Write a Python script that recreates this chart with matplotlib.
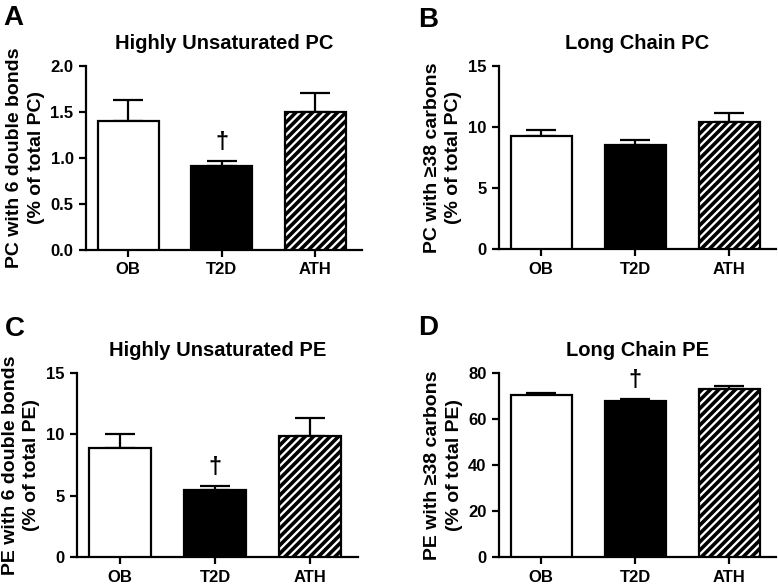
import matplotlib
matplotlib.use("Agg")
import matplotlib.pyplot as plt

plt.rcParams['font.family'] = ['Liberation Sans', 'DejaVu Sans']
plt.rcParams['font.weight'] = 'bold'
plt.rcParams['hatch.linewidth'] = 2.6

groups = ["OB", "T2D", "ATH"]

# Panel A: Highly Unsaturated PC
a_vals = [1.40, 0.91, 1.50]
a_err = [0.23, 0.055, 0.21]
# Panel B: Long Chain PC
b_vals = [9.30, 8.53, 10.39]
b_err = [0.49, 0.41, 0.74]
# Panel C: Highly Unsaturated PE
c_vals = [8.86, 5.46, 9.86]
c_err = [1.19, 0.33, 1.47]
# Panel D: Long Chain PE
d_vals = [70.4, 67.7, 73.2]
d_err = [1.0, 1.0, 1.1]

titles = ["Highly Unsaturated PC", "Long Chain PC", "Highly Unsaturated PE", "Long Chain PE"]
ylabels = ["PC with 6 double bonds\n(% of total PC)",
           "PC with \u226538 carbons\n(% of total PC)",
           "PE with 6 double bonds\n(% of total PE)",
           "PE with \u226538 carbons\n(% of total PE)"]
yticks = [[0.0, 0.5, 1.0, 1.5, 2.0], [0, 5, 10, 15], [0, 5, 10, 15], [0, 20, 40, 60, 80]]
ytick_fmt = ["{:.1f}", "{:.0f}", "{:.0f}", "{:.0f}"]
sig = [[False, True, False], [False, False, False], [False, True, False], [False, True, False]]
letters = ["A", "B", "C", "D"]

fig = plt.figure(figsize=(7.78, 5.87), dpi=100)
rects = [
    [86/778, 1-250/587, (362-86)/778, (250-66)/587],
    [499/778, 1-249/587, (776-499)/778, (249-66)/587],
    [77/778, 1-557/587, (358-77)/778, (557-373)/587],
    [499/778, 1-557/587, (776-499)/778, (557-373)/587],
]
letter_pos = [(3/778, 1-5/587), (418/778, 1-7/587), (5/778, 1-316/587), (418/778, 1-315/587)]

data = [(a_vals, a_err), (b_vals, b_err), (c_vals, c_err), (d_vals, d_err)]
faces = ["white", "black", "white"]
hatches = [None, None, "////"]

for i in range(4):
    ax = fig.add_axes(rects[i])
    vals, errs = data[i]
    x = list(range(len(groups)))
    for j in x:
        ax.bar(j, vals[j], width=0.65, color=faces[j], edgecolor="black",
               linewidth=1.6, hatch=hatches[j], zorder=3)
        ax.errorbar(j, vals[j], yerr=[[0], [errs[j]]], fmt="none", ecolor="black",
                    elinewidth=1.6, capsize=11, capthick=1.6, zorder=2)
        if sig[i][j]:
            ax.annotate("\u2020", xy=(j, vals[j] + errs[j]), xytext=(0, 5),
                        textcoords="offset points", ha="center", va="bottom",
                        fontsize=17, fontweight="bold")
    ax.set_xlim(-0.45, 2.5)
    ax.set_ylim(yticks[i][0], yticks[i][-1])
    ax.set_yticks(yticks[i])
    ax.set_yticklabels([ytick_fmt[i].format(v) for v in yticks[i]])
    ax.set_xticks(x)
    ax.set_xticklabels(groups)
    for s in ["top", "right"]:
        ax.spines[s].set_visible(False)
    for s in ["left", "bottom"]:
        ax.spines[s].set_linewidth(1.6)
    ax.tick_params(axis="both", width=1.6, length=5, labelsize=12, direction="out", pad=4)
    for lab in ax.get_xticklabels() + ax.get_yticklabels():
        lab.set_fontweight("bold")
    ax.set_title(titles[i], fontsize=14.5, fontweight="bold", pad=12)
    ax.set_ylabel(ylabels[i], fontsize=14, fontweight="bold", labelpad=4, linespacing=1.35)
    fig.text(letter_pos[i][0], letter_pos[i][1], letters[i], fontsize=20,
             fontweight="bold", ha="left", va="top")

fig.savefig("out.png", dpi=100)
